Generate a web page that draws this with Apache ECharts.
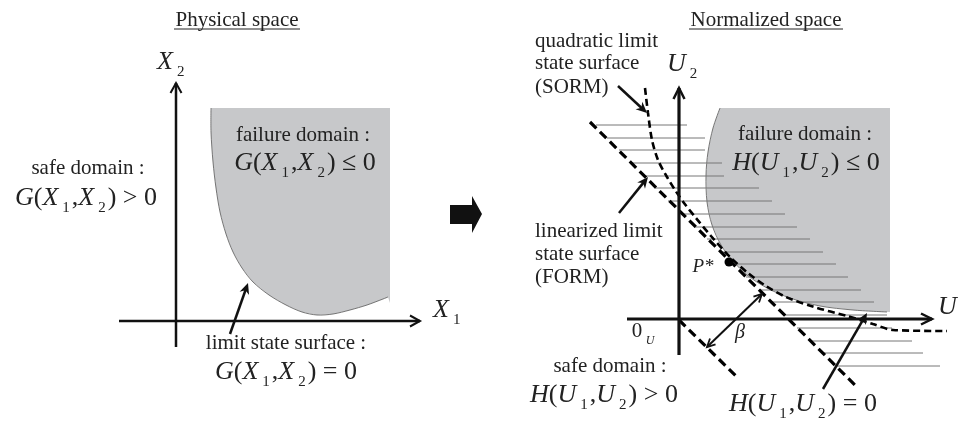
<!DOCTYPE html>
<html><head><meta charset="utf-8">
<script src="https://cdn.jsdelivr.net/npm/echarts/dist/echarts.min.js"></script>
<style>html,body{margin:0;padding:0;background:#fff}#c{width:958px;height:421px}</style>
</head><body><div id="c"></div>
<script>
// ---------- data (in diagram coordinates: x right, y down, 958 x 421) ----------
const panelTitles = ['Physical space', 'Normalized space'];

// physical space
const physCurve = [[211,108],[211,132],[213,162],[216,188],[220,212],[226,234],[233,252],[242,268],[253,282],[269,295],[286,305],[302,312],[317,315],[333,314],[350,310],[367,305],[383,299],[388,297]];
const physCorner = [[390,303],[390,108]];
const physAxes = [[119,321,420,321],[176,347,176,83]];
const physPointer = [[230,334,248,283]];

// transformation arrow
const blockArrow = [[450,205],[472,205],[472,196],[482,214],[472,233],[472,224],[450,224]];

// normalized space
const normCurve = [[720,108],[713,128],[708,152],[706,175],[707,202],[712,225],[721,245],[733,261],[747,275],[767,288],[790,298],[820,306],[853,310],[887,312]];
const normCorner = [[890,312],[890,108]];
const hatchY     = [125,138,150,163,176,188,201,214,227,239,252,264,277,290,302,315,328,341,353,366];
const hatchStart = [596,607,619,632,644,655,668,681,694,707,720,733,746,759,771,784,797,810,823,835];
const hatchEnd   = [687,705,705,722,724,759,772,785,797,810,823,836,848,861,874,887,892,912,923,940];
const sormCurve = [[645,88],[648,113],[652,140],[658,160],[667,177],[675,190],[684,203],[696,218],[711,236],[730,257],[748,273],[766,286],[786,297],[814,307],[847,316],[873,324],[893,330],[947,331]];
const formLine = [[590,122],[858,388]];
const originLine = [[679,320],[737,377]];
const normAxes = [[627,319,932,319],[679,355,679,88]];
const normPointers = [[618,86,647,113],[619,213,648,177],[823,389,867,313]];
const betaArrow = [[707,347,762,294]];
const designPoint = [[729,262]];

// ---------- drawing ----------
const SERIF = '"Liberation Serif","Times New Roman",serif';
const TXT = '#222';
const GRAY = '#c7c8ca';

const chart = echarts.init(document.getElementById('c'));

function regionSeries(curve, corner) {
  return {
    type: 'custom', coordinateSystem: 'cartesian2d', silent: true, clip: false,
    data: [0], z: 1,
    renderItem: function (params, api) {
      const pts = curve.concat(corner).map(p => api.coord(p));
      const cpts = curve.map(p => api.coord(p));
      return {type: 'group', children: [
        {type: 'polygon', shape: {points: pts, smooth: 0}, style: {fill: GRAY, stroke: null}},
        {type: 'polyline', shape: {points: cpts, smooth: 0.3}, style: {stroke: '#555', lineWidth: 0.8, fill: null}}
      ]};
    }
  };
}

function arrowSeries(rows, opt) {
  return {
    type: 'custom', coordinateSystem: 'cartesian2d', silent: true, clip: false, z: opt.z || 5,
    data: rows,
    renderItem: function (params, api) {
      const a = api.coord([api.value(0), api.value(1)]);
      const b = api.coord([api.value(2), api.value(3)]);
      const dx = b[0]-a[0], dy = b[1]-a[1], L = Math.hypot(dx, dy);
      const ux = dx/L, uy = dy/L, nx = -uy, ny = ux;
      const len = opt.len, half = opt.half;
      const children = [];
      function head(t, sx, sy) {
        const p1 = [t[0]-sx*len+nx*half, t[1]-sy*len+ny*half];
        const p2 = [t[0]-sx*len-nx*half, t[1]-sy*len-ny*half];
        if (opt.filled) {
          const back = [t[0]-sx*len*0.7, t[1]-sy*len*0.7];
          children.push({type: 'polygon', shape: {points: [t, p1, back, p2]}, style: {fill: '#111'}});
        } else {
          children.push({type: 'polyline', shape: {points: [p1, t, p2]}, style: {stroke: '#111', lineWidth: opt.headWidth || opt.width, fill: null, lineJoin: 'miter'}});
        }
      }
      let s = a, e = b;
      if (opt.filled) e = [b[0]-ux*len*0.6, b[1]-uy*len*0.6];
      children.push({type: 'line', shape: {x1: s[0], y1: s[1], x2: e[0], y2: e[1]}, style: {stroke: '#111', lineWidth: opt.width}});
      head(b, ux, uy);
      if (opt.both) head(a, -ux, -uy);
      return {type: 'group', children: children};
    }
  };
}

const hatchRows = hatchY.map((y, i) => [hatchStart[i], y, hatchEnd[i]]);

const option = {
  animation: false,
  backgroundColor: '#fff',
  grid: {left: 0, right: 0, top: 0, bottom: 0},
  xAxis: {type: 'value', min: 0, max: 958, show: false},
  yAxis: {type: 'value', min: 0, max: 421, inverse: true, show: false},
  series: [
    regionSeries(physCurve, physCorner),
    regionSeries(normCurve, normCorner),
    {
      type: 'custom', coordinateSystem: 'cartesian2d', silent: true, clip: false, z: 2,
      data: hatchRows,
      renderItem: function (params, api) {
        const a = api.coord([api.value(0), api.value(1)]);
        const b = api.coord([api.value(2), api.value(1)]);
        return {type: 'line', shape: {x1: a[0], y1: a[1], x2: b[0], y2: b[1]}, style: {stroke: '#777', lineWidth: 1}};
      }
    },
    {type: 'line', data: formLine, symbol: 'none', silent: true, z: 3,
     lineStyle: {color: '#000', width: 3.2, type: [9, 5], opacity: 1}},
    {type: 'line', data: originLine, symbol: 'none', silent: true, z: 3,
     lineStyle: {color: '#000', width: 3.2, type: [9, 5], opacity: 1}},
    {type: 'line', data: sormCurve, symbol: 'none', smooth: 0.3, silent: true, z: 3,
     lineStyle: {color: '#000', width: 2.6, type: [7, 4], opacity: 1}},
    arrowSeries(physAxes, {width: 2.5, len: 10, half: 5.5, headWidth: 2}),
    arrowSeries(normAxes, {width: 3.2, len: 11, half: 5.5, headWidth: 2.5}),
    arrowSeries(physPointer, {width: 2.5, len: 11, half: 5, filled: true}),
    arrowSeries(normPointers, {width: 2.5, len: 11, half: 5, filled: true}),
    arrowSeries(betaArrow, {width: 2, len: 8, half: 4, headWidth: 1.8, both: true}),
    {
      type: 'custom', coordinateSystem: 'cartesian2d', silent: true, clip: false, z: 4,
      data: [0],
      renderItem: function (params, api) {
        return {type: 'polygon', shape: {points: blockArrow.map(p => api.coord(p))}, style: {fill: '#111'}};
      }
    },
    {type: 'scatter', data: designPoint, symbol: 'circle', symbolSize: 9, silent: true, z: 6,
     itemStyle: {color: '#000', opacity: 1}}
  ],
  graphic: []
};

function plain(text, x, y, align, size) {
  return {type: 'text', x: x, y: y, silent: true, z: 10,
    style: {text: text, fontFamily: SERIF, fontSize: size || 21, fill: TXT, align: align || 'center', verticalAlign: 'middle'}};
}
const rich = {
  i: {fontFamily: SERIF, fontStyle: 'italic', fontSize: 26, lineHeight: 36, fill: TXT},
  n: {fontFamily: SERIF, fontSize: 26, lineHeight: 36, fill: TXT},
  s: {fontFamily: SERIF, fontSize: 15, lineHeight: 15, verticalAlign: 'bottom', fill: TXT, padding: [0, 2, 0, 4]}
};
function formula(F, V, rel, x, y) {
  const t = '{i|' + F + '}{n|(}{i|' + V + '}{s|1}{n|,}{i|' + V + '}{s|2}{n|) ' + rel + ' 0}';
  return {type: 'text', x: x, y: y, silent: true, z: 10,
    style: {text: t, rich: rich, align: 'center', verticalAlign: 'middle', fill: TXT}};
}
function axisLabel(V, sub, x, y) {
  return {type: 'text', x: x, y: y, silent: true, z: 10,
    style: {text: '{i|' + V + '}{s|' + sub + '}', rich: rich, align: 'left', verticalAlign: 'middle', fill: TXT}};
}

option.graphic = [
  plain(panelTitles[0], 237, 20),
  {type: 'line', shape: {x1: 174, y1: 29, x2: 300, y2: 29}, style: {stroke: '#222', lineWidth: 1}, silent: true},
  plain(panelTitles[1], 766, 20),
  {type: 'line', shape: {x1: 689, y1: 29, x2: 843, y2: 29}, style: {stroke: '#222', lineWidth: 1}, silent: true},

  plain('failure domain :', 303, 135),
  formula('G', 'X', '≤', 305, 163),
  plain('safe domain :', 88, 168),
  formula('G', 'X', '>', 86, 198),
  plain('limit state surface :', 286, 343),
  formula('G', 'X', '=', 286, 372),
  axisLabel('X', '2', 157, 62),
  axisLabel('X', '1', 433, 310),

  plain('quadratic limit', 535, 41, 'left'),
  plain('state surface', 535, 63, 'left'),
  plain('(SORM)', 535, 87, 'left'),
  plain('linearized limit', 535, 231, 'left'),
  plain('state surface', 535, 254, 'left'),
  plain('(FORM)', 535, 277, 'left'),
  plain('failure domain :', 805, 134),
  formula('H', 'U', '≤', 806, 163),
  plain('safe domain :', 610, 366),
  formula('H', 'U', '>', 604, 395),
  formula('H', 'U', '=', 803, 404),
  axisLabel('U', '2', 667, 64),
  axisLabel('U', '1', 938, 307),
  {type: 'text', x: 703, y: 267, silent: true, z: 10,
   style: {text: 'P*', fontFamily: SERIF, fontStyle: 'italic', fontSize: 19, fill: TXT, align: 'center', verticalAlign: 'middle'}},
  {type: 'text', x: 740, y: 333, silent: true, z: 10,
   style: {text: 'β', fontFamily: SERIF, fontStyle: 'italic', fontSize: 20, fill: TXT, align: 'center', verticalAlign: 'middle'}},
  plain('0', 637, 331, 'center', 21),
  {type: 'text', x: 650, y: 341, silent: true, z: 10,
   style: {text: 'U', fontFamily: SERIF, fontStyle: 'italic', fontSize: 12, fill: TXT, align: 'center', verticalAlign: 'middle'}}
];

chart.setOption(option);
</script></body></html>
